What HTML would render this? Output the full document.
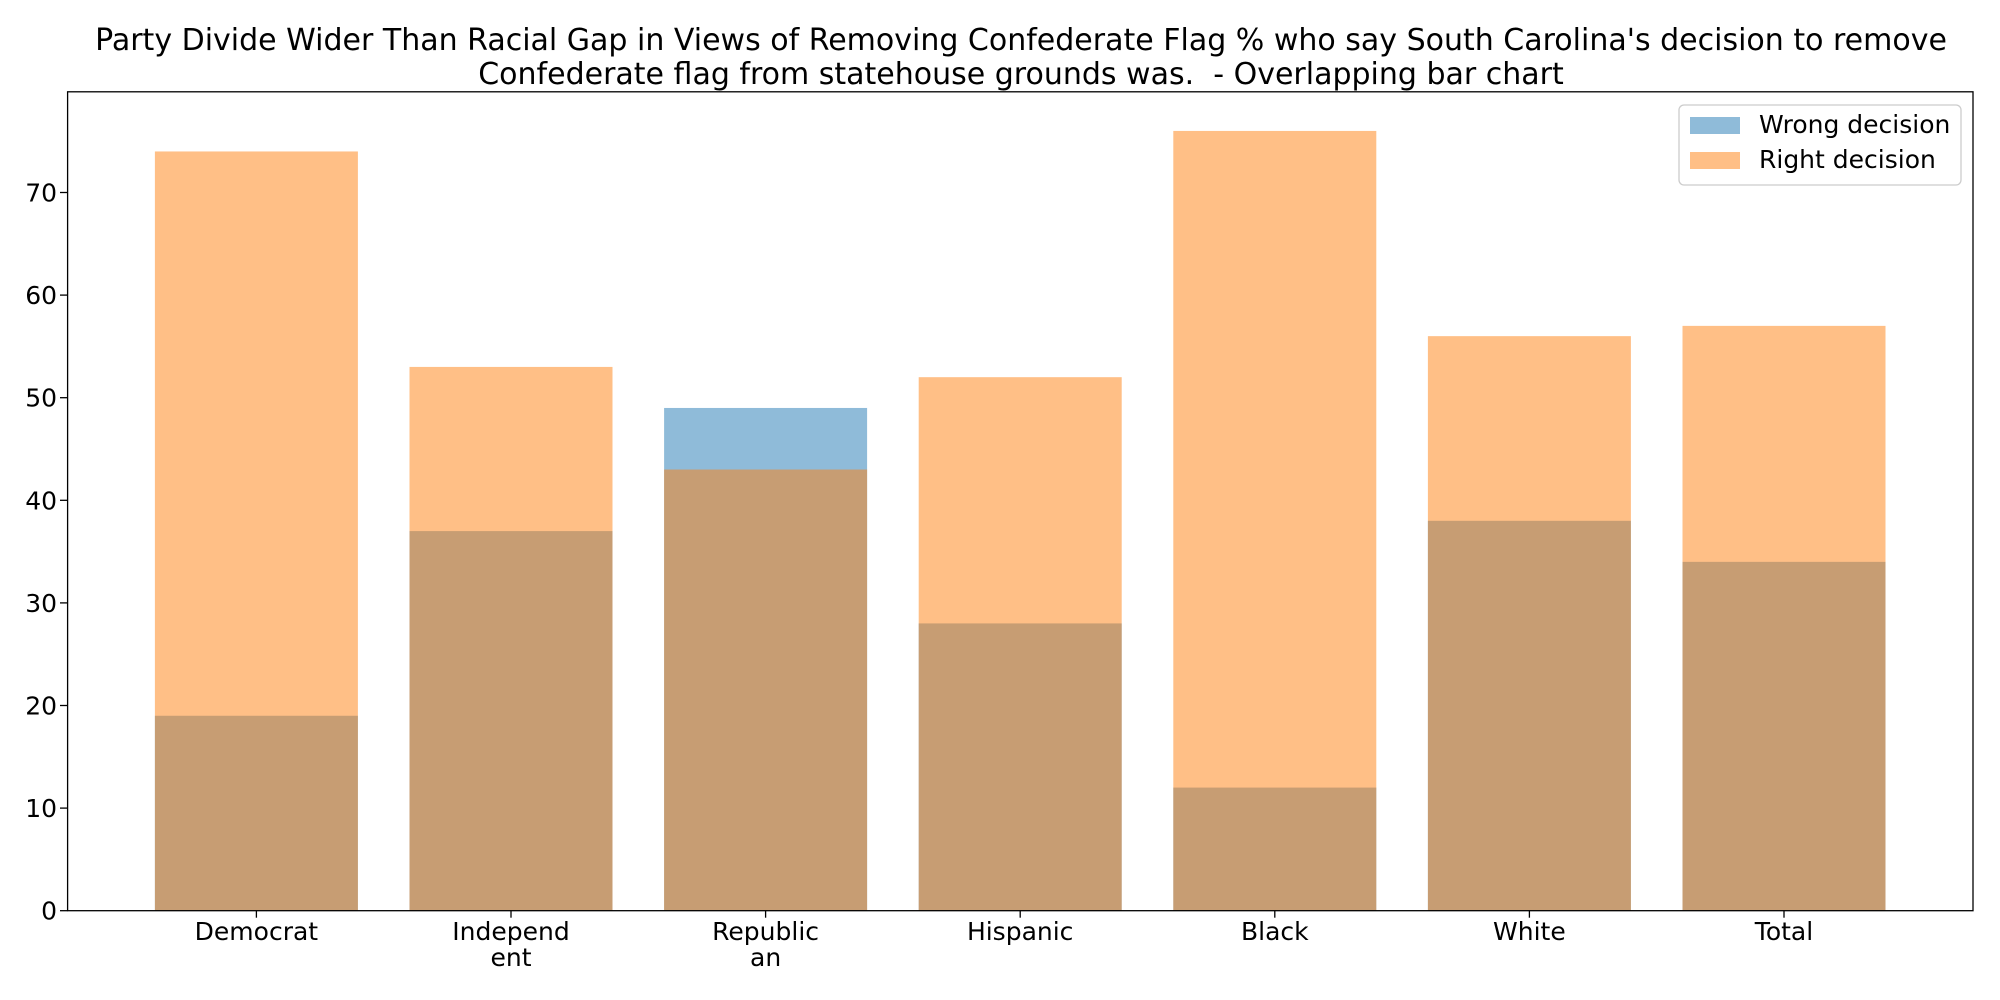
<!DOCTYPE html>
<html><head><meta charset="utf-8"><style>
body{margin:0;background:#fff;}
svg{display:block;font-family:"DejaVu Sans","Liberation Sans",sans-serif;}
</style></head><body>
<svg id="chart" width="2000" height="1000" viewBox="0 0 2000 1000">
<text x="1021" y="50" text-anchor="middle" font-size="30" fill="#000">Party Divide Wider Than Racial Gap in Views of Removing Confederate Flag % who say South Carolina's decision to remove</text>
<text x="1021" y="84" text-anchor="middle" font-size="30" fill="#000">Confederate flag from statehouse grounds was.&#160; - Overlapping bar chart</text>
<g id="plot"></g>
<rect x="67.6" y="91.8" width="1905.4" height="818.9" fill="none" stroke="#000" stroke-width="1.3"/>
<g>
<rect x="1679" y="105" width="282" height="80" rx="5" fill="#fff" fill-opacity="0.8" stroke="#ccc" stroke-width="1.3"/>
<rect x="1690" y="117" width="50" height="17" fill="#1f77b4" fill-opacity="0.5"/>
<text x="1759" y="133" font-size="25">Wrong decision</text>
<rect x="1690" y="152" width="50" height="17" fill="#ff7f0e" fill-opacity="0.5"/>
<text x="1759" y="168" font-size="25">Right decision</text>
</g>
</svg>
<script>
const categories = [["Democrat"],["Independ","ent"],["Republic","an"],["Hispanic"],["Black"],["White"],["Total"]];
const wrongValues = [19,37,49,28,12,38,34];
const rightValues = [74,53,43,52,76,56,57];
const yTicks = [0,10,20,30,40,50,60,70];

const NS="http://www.w3.org/2000/svg";
const plot=document.getElementById('plot');
const yBottom=910.7, pxPerUnit=10.26;
const y=v=>yBottom-v*pxPerUnit;
const xCenter=i=>256.4+i*254.6;
const barW=203;
function mk(tag,attrs){const e=document.createElementNS(NS,tag);for(const k in attrs)e.setAttribute(k,attrs[k]);plot.appendChild(e);return e;}
function drawSeries(vals,color,name){
  vals.forEach((v,i)=>{
    const r=mk('rect',{x:xCenter(i)-barW/2,y:y(v),width:barW,height:yBottom-y(v),fill:color,'fill-opacity':0.5});
    
    
  });
}
drawSeries(wrongValues,'#1f77b4','wrong');
drawSeries(rightValues,'#ff7f0e','right');
yTicks.forEach(t=>{
  const l=mk('line',{x1:60,x2:67.6,y1:y(t),y2:y(t),stroke:'#000','stroke-width':1.3});
  
  
  const tx=mk('text',{x:57,y:y(t)+9,'text-anchor':'end','font-size':25});
  tx.textContent=t;
  
  
});
categories.forEach((c,i)=>{
  const l=mk('line',{x1:xCenter(i),x2:xCenter(i),y1:yBottom,y2:yBottom+7,stroke:'#000','stroke-width':1.3});
  
  
  c.forEach((s,j)=>{
    const tx=mk('text',{x:xCenter(i),y:940+j*26,'text-anchor':'middle','font-size':25});
    tx.textContent=s;
    
    
  });
});
</script>
</body></html>
